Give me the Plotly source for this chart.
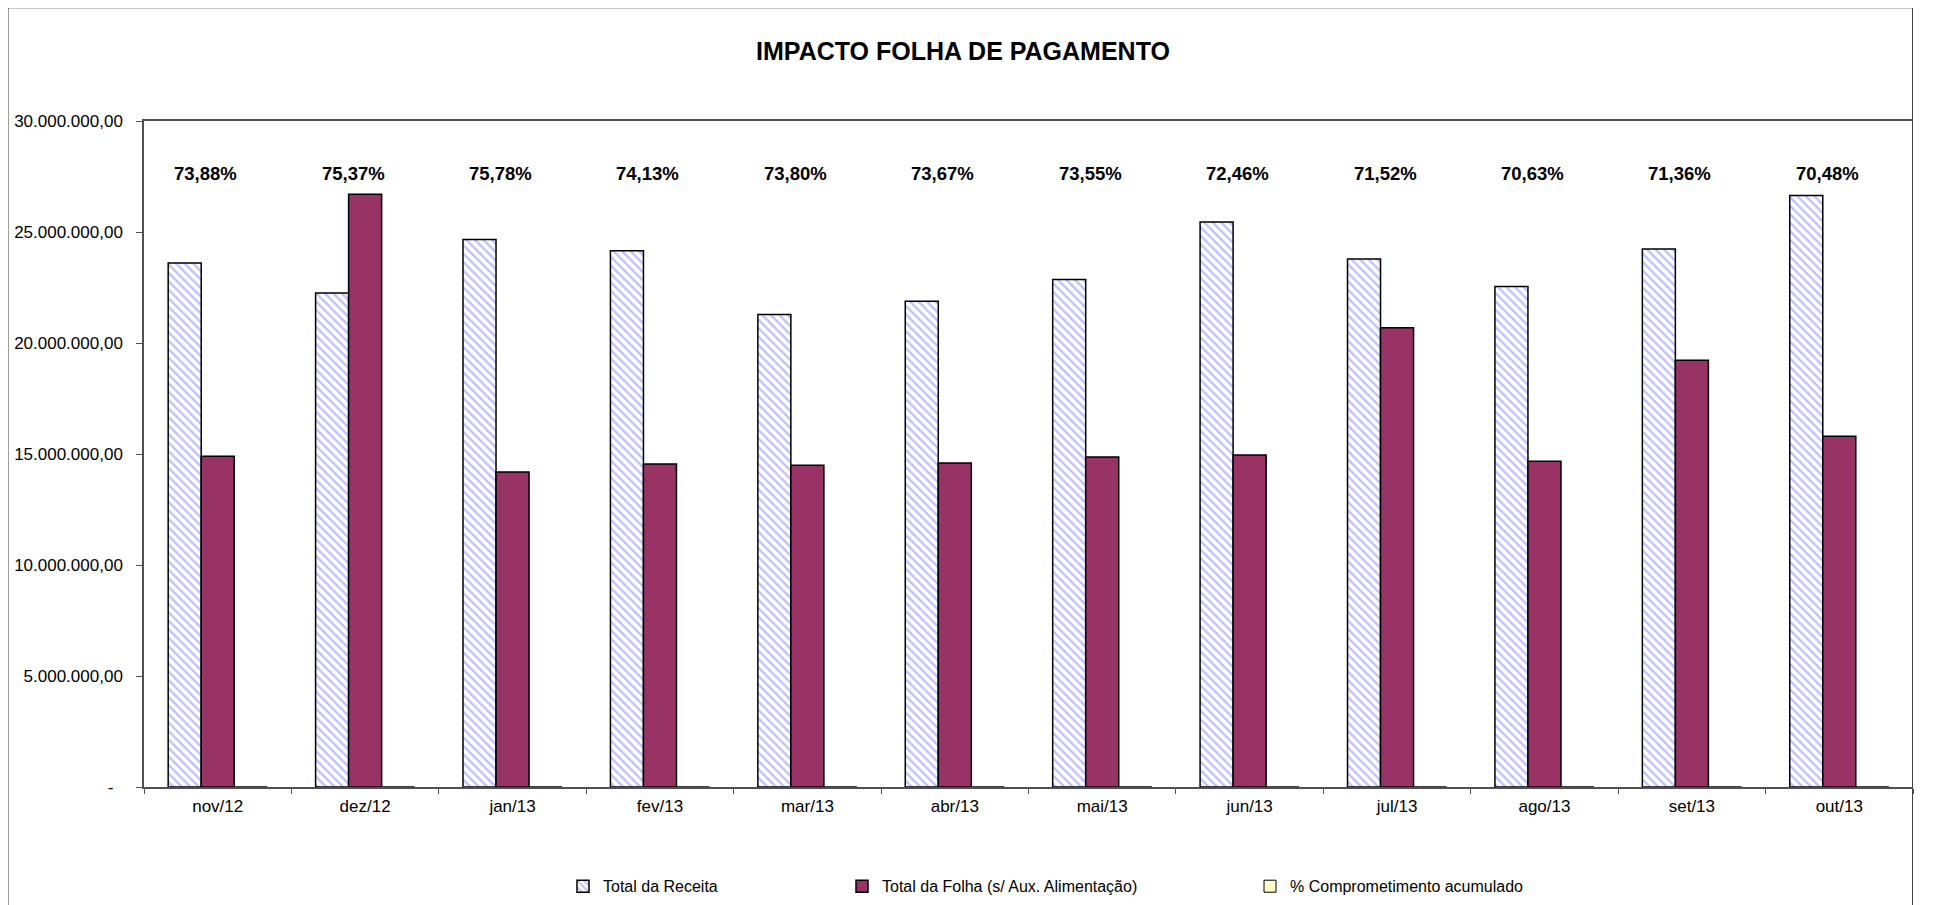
import plotly.graph_objects as go

# ---------------- data ----------------
categories = ["nov/12", "dez/12", "jan/13", "fev/13", "mar/13", "abr/13",
              "mai/13", "jun/13", "jul/13", "ago/13", "set/13", "out/13"]
total_receita = [23.60e6, 22.25e6, 24.66e6, 24.16e6, 21.28e6, 21.88e6,
                 22.86e6, 25.45e6, 23.78e6, 22.55e6, 24.23e6, 26.64e6]
total_folha = [14.90e6, 26.70e6, 14.19e6, 14.55e6, 14.49e6, 14.59e6,
               14.86e6, 14.95e6, 20.69e6, 14.67e6, 19.22e6, 15.80e6]
pct_comprometimento = [73.88, 75.37, 75.78, 74.13, 73.80, 73.67,
                       73.55, 72.46, 71.52, 70.63, 71.36, 70.48]
y_tickvals = [0, 5e6, 10e6, 15e6, 20e6, 25e6, 30e6]

series_names = ["Total da Receita", "Total da Folha (s/ Aux. Alimentação)",
                "% Comprometimento acumulado"]
title_text = "IMPACTO FOLHA DE PAGAMENTO"


def br_number(v):
    if v == 0:
        return "-\u00a0\u00a0"
    s = f"{v:,.2f}"
    return s.replace(",", "X").replace(".", ",").replace("X", ".")


def br_pct(v):
    return f"{v:.2f}".replace(".", ",") + "%"


y_ticktext = [br_number(v) for v in y_tickvals]

FONT = "Liberation Sans, Arial, sans-serif"

# ---------------- layout geometry (screen pixels) ----------------
W, H = 1938, 905
SHIFT = 8  # page body margin offset
PL, PR, PT, PB = 144, 1913, 120.7, 786.7   # target screen coords of plot area
pw, ph = PR - PL, PB - PT


def px_x(x):
    return (x - PL) / pw


def px_y(y):
    return (PB - y) / ph


fig = go.Figure()

fig.add_trace(go.Bar(
    x=categories, y=total_receita, name=series_names[0],
    marker=dict(color="white", line=dict(color="black", width=1.5),
                pattern=dict(shape="\\", fgcolor="#7f7fff", bgcolor="white",
                             size=6, solidity=0.4)),
    legend="legend",
))
fig.add_trace(go.Bar(
    x=categories, y=total_folha, name=series_names[1],
    marker=dict(color="#993366", line=dict(color="black", width=1.5)),
    legend="legend2",
))
fig.add_trace(go.Bar(
    x=categories, y=[p / 100 for p in pct_comprometimento], name=series_names[2],
    marker=dict(color="#FFFFCC", line=dict(color="black", width=1)),
    legend="legend3",
))

annotations = []
for c, p in zip(categories, pct_comprometimento):
    annotations.append(dict(
        x=c, y=27.64e6, xref="x", yref="y", text=f"<b>{br_pct(p)}</b>", showarrow=False,
        xshift=-12, font=dict(family=FONT, size=18.5, color="black"),
        xanchor="center", yanchor="middle",
    ))

legend_common = dict(orientation="h", yanchor="middle", y=px_y(886),
                     xanchor="left", bgcolor="rgba(0,0,0,0)",
                     font=dict(family=FONT, size=16, color="black"),
                     itemclick=False, itemdoubleclick=False)

fig.update_layout(
    width=W, height=H,
    margin=dict(l=PL - SHIFT, r=W - (PR - SHIFT), t=PT - SHIFT, b=H - (PB - SHIFT),
                pad=0, autoexpand=False),
    showlegend=True,
    paper_bgcolor="white", plot_bgcolor="white",
    barmode="group", bargap=0.328, bargroupgap=0,
    font=dict(family=FONT, size=16, color="black"),
    title=dict(text=f"<b>{title_text}</b>", x=(963 - SHIFT) / W, xref="container",
               xanchor="center", y=1 - (51 - SHIFT) / H, yref="container",
               yanchor="middle", font=dict(family=FONT, size=25, color="black")),
    xaxis=dict(type="category", showline=True, linecolor="#505050", linewidth=1.5,
               mirror=True, ticks="outside", tickson="boundaries", ticklen=5,
               tickcolor="#505050", ticklabelstandoff=3,
               tickfont=dict(family=FONT, size=17, color="black"),
               showgrid=False, zeroline=False),
    yaxis=dict(range=[0, 30e6], tickvals=y_tickvals, ticktext=y_ticktext,
               showline=True, linecolor="#505050", linewidth=1.5, ticks="outside",
               ticklen=6, tickcolor="#505050", ticklabelstandoff=10,
               tickfont=dict(family=FONT, size=17, color="black"),
               showgrid=False, zeroline=False),
    legend=dict(x=px_x(603 - 40), **legend_common),
    legend2=dict(x=px_x(882 - 40), **legend_common),
    legend3=dict(x=px_x(1290 - 40), **legend_common),
    annotations=annotations,
    shapes=[dict(type="rect", xref="paper", yref="paper",
                 x0=px_x(8), x1=px_x(1912.5), y0=px_y(930), y1=px_y(7.5),
                 line=dict(color="#404040", width=1), fillcolor="rgba(0,0,0,0)",
                 layer="above")],
)

fig.write_html("out.html")
